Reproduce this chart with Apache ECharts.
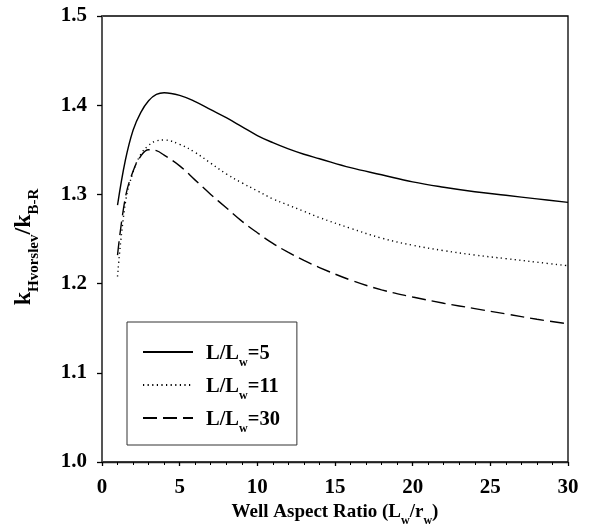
<!DOCTYPE html>
<html>
<head>
<meta charset="utf-8">
<style>
  html, body { margin: 0; padding: 0; background: #fff; }
  #chart { width: 589px; height: 531px; }
</style>
<script src="https://cdn.jsdelivr.net/npm/echarts@6/dist/echarts.min.js"></script>
</head>
<body>
<div id="chart"></div>
<script>
// Well aspect ratio Lw/rw
const aspectRatio = [1, 1.5, 2, 2.5, 3, 3.5, 4, 5, 6, 7, 8, 9, 10, 11, 12, 13, 14, 16, 18, 20, 22, 24, 26, 28, 30];
// k_Hvorslev / k_B-R for three values of L/Lw
const ratioL5  = [1.288, 1.338, 1.372, 1.392, 1.405, 1.412, 1.414, 1.411, 1.404, 1.395, 1.386, 1.376, 1.366, 1.358, 1.351, 1.345, 1.340, 1.330, 1.322, 1.314, 1.308, 1.303, 1.299, 1.295, 1.291];
const ratioL11 = [1.208, 1.290, 1.325, 1.345, 1.355, 1.360, 1.361, 1.356, 1.347, 1.335, 1.323, 1.313, 1.304, 1.295, 1.288, 1.281, 1.274, 1.262, 1.251, 1.243, 1.237, 1.232, 1.228, 1.224, 1.220];
const ratioL30 = [1.232, 1.296, 1.326, 1.343, 1.350, 1.349, 1.344, 1.332, 1.316, 1.300, 1.285, 1.270, 1.257, 1.245, 1.235, 1.226, 1.218, 1.204, 1.193, 1.185, 1.178, 1.172, 1.166, 1.160, 1.155];
const seriesNames = ['L/Lw=5', 'L/Lw=11', 'L/Lw=30'];
const seriesLabelValues = ['5', '11', '30'];

const FONT = 'Liberation Serif';

function pairs(xs, ys) { return xs.map((x, i) => [x, ys[i]]); }

const chart = echarts.init(document.getElementById('chart'), null, { renderer: 'canvas' });

const lineStyles = [
  { type: 'solid' },
  { type: [1.2, 3.4] },
  { type: [14, 6] }
];
const seriesData = [ratioL5, ratioL11, ratioL30];

const subRich = (size, drop) => ({
  fontFamily: FONT, fontWeight: 'bold', fontSize: size, color: '#000',
  lineHeight: 16, verticalAlign: 'bottom', padding: [0, 0, -drop, 0]
});
const mainRich = (size) => ({
  fontFamily: FONT, fontWeight: 'bold', fontSize: size, color: '#000',
  lineHeight: 24, verticalAlign: 'bottom'
});

chart.setOption({
  animation: false,
  backgroundColor: '#fff',
  grid: {
    left: 102, right: 21, top: 16, bottom: 69,
    outerBoundsMode: 'none',
    containLabel: false,
    show: true, borderColor: '#000', borderWidth: 1.3, backgroundColor: 'transparent'
  },
  legend: {
    orient: 'vertical',
    left: 127, top: 322,
    padding: [21, 17, 10, 15],
    itemWidth: 50, itemHeight: 16, itemGap: 7,
    borderColor: '#333', borderWidth: 1,
    backgroundColor: '#fff',
    itemStyle: { opacity: 0 },
    data: seriesNames,
    formatter: function (name) {
      const v = seriesLabelValues[seriesNames.indexOf(name)];
      return '{a|L/L}{s|w}{a|=' + v + '}';
    },
    textStyle: {
      fontFamily: FONT, fontWeight: 'bold', color: '#000', padding: [0, 0, 0, 8],
      rich: { a: mainRich(20.5), s: subRich(12, 5) }
    }
  },
  xAxis: {
    type: 'value', min: 0, max: 30, interval: 5,
    name: '{a|Well Aspect Ratio (L}{s|w}{a|/r}{s|w}{a|)}',
    nameLocation: 'middle', nameGap: 36,
    nameTextStyle: { rich: { a: mainRich(19), s: subRich(12, 5) } },
    axisLine: { show: true, onZero: false, lineStyle: { color: '#222', width: 1.3 } },
    axisTick: { show: true, inside: false, length: 4, lineStyle: { color: '#000', width: 1.3 } },
    minorTick: { show: true, splitNumber: 5, length: 3, lineStyle: { color: '#000', width: 1 } },
    axisLabel: { fontFamily: FONT, fontWeight: 'bold', fontSize: 21, color: '#000', margin: 15 },
    splitLine: { show: false }
  },
  yAxis: {
    type: 'value', min: 1.0, max: 1.5, interval: 0.1,
    name: '{k|k}{s|Hvorslev}{k|/k}{s|B-R}',
    nameLocation: 'middle', nameGap: 66, nameRotate: 90,
    nameTextStyle: { padding: [0, 16, 0, 0], rich: { k: mainRich(24), s: subRich(15, 6) } },
    axisLine: { show: true, lineStyle: { color: '#555', width: 2 } },
    axisTick: { show: true, inside: false, length: 5, lineStyle: { color: '#000', width: 1.3 } },
    axisLabel: {
      fontFamily: FONT, fontWeight: 'bold', fontSize: 21, color: '#000', margin: 15,
      formatter: v => v.toFixed(1)
    },
    splitLine: { show: false }
  },
  series: seriesNames.map((name, i) => ({
    name: name,
    type: 'line',
    data: pairs(aspectRatio, seriesData[i]),
    smooth: 0.4,
    symbol: 'none',
    lineStyle: Object.assign({ color: '#000', width: 1.4 }, lineStyles[i]),
    itemStyle: { color: '#000' }
  }))
});
</script>
</body>
</html>
